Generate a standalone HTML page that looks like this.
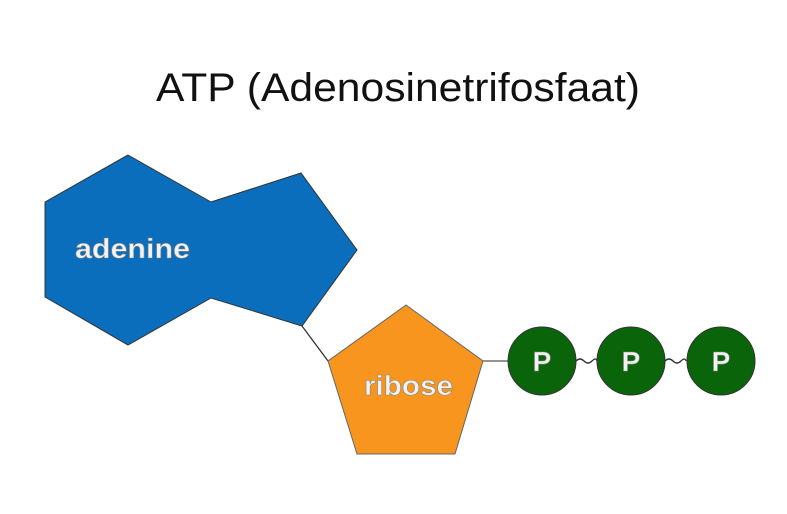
<!DOCTYPE html>
<html><head><meta charset="utf-8"><style>
html,body{margin:0;padding:0;background:#fff;}
svg{display:block;}
.lbl{font-family:"Liberation Sans",sans-serif;font-weight:bold;fill:#f2f2f2;stroke:#888;stroke-width:0.6;}
</style></head><body>
<svg width="787" height="514" viewBox="0 0 787 514" xmlns="http://www.w3.org/2000/svg">
<text x="398" y="101" text-anchor="middle" font-family="Liberation Sans, sans-serif" font-size="40" fill="#111" textLength="484" lengthAdjust="spacingAndGlyphs">ATP (Adenosinetrifosfaat)</text>
<line x1="302" y1="326" x2="328" y2="361" stroke="#333" stroke-width="1.3"/>
<line x1="483" y1="361" x2="508" y2="361" stroke="#555" stroke-width="1.3"/>
<path d="M576 361 q4 -4 8 0 t8 0 t5 0" fill="none" stroke="#333" stroke-width="1.3"/>
<path d="M665 361 q4 -4 8 0 t8 0 t5 0" fill="none" stroke="#333" stroke-width="1.3"/>
<polygon points="128,155 211,202 301,173 357,250 302,326 211,298 128,345 45,297 45,202" fill="#0a6ebd" stroke="#333" stroke-width="1"/>
<polygon points="406,305 483,361 455,454 357,454 328,361" fill="#f7951e" stroke="#666" stroke-width="1"/>
<circle cx="542" cy="361" r="34" fill="#0a650a" stroke="#333" stroke-width="1"/>
<circle cx="631" cy="361" r="34" fill="#0a650a" stroke="#333" stroke-width="1"/>
<circle cx="721" cy="361" r="34" fill="#0a650a" stroke="#333" stroke-width="1"/>
<text class="lbl" x="75" y="258" font-size="28" textLength="115" lengthAdjust="spacingAndGlyphs">adenine</text>
<text class="lbl" x="364" y="395" font-size="28" textLength="89" lengthAdjust="spacingAndGlyphs">ribose</text>
<text class="lbl" x="542" y="371" font-size="28" text-anchor="middle">P</text>
<text class="lbl" x="631" y="371" font-size="28" text-anchor="middle">P</text>
<text class="lbl" x="721" y="371" font-size="28" text-anchor="middle">P</text>
</svg>
</body></html>
